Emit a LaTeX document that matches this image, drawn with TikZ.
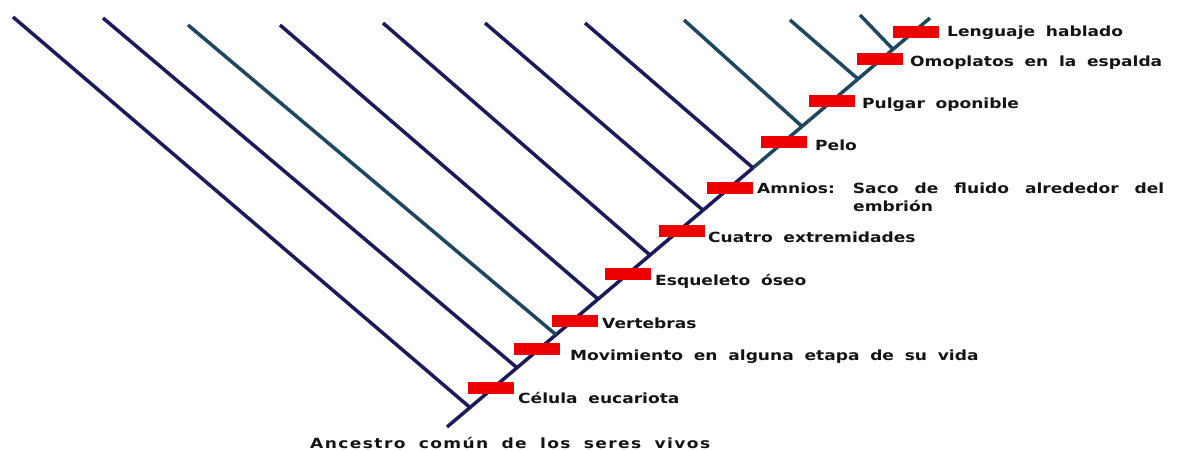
\documentclass[tikz,border=0pt]{standalone}
\usepackage{fontspec}
\usepackage{tikz}
\newfontfamily\lblfont{DejaVu Sans Bold}[FakeStretch=1.22, WordSpace=1.8]
\definecolor{navy}{RGB}{28,28,92}
\definecolor{tealblue}{RGB}{30,72,98}
\definecolor{barred}{RGB}{236,0,0}
\tikzset{
  branch/.style={line width=3.5pt, draw=navy},
  tbranch/.style={line width=3.5pt, draw=tealblue},
  trait/.style={rectangle, fill=barred, minimum width=46pt, minimum height=12pt, inner sep=0pt},
  label/.style={anchor=west, inner sep=0pt, font=\lblfont\fontsize{14}{18}\selectfont, text=black!92}
}

\begin{document}
\begin{tikzpicture}[x=1pt, y=-1pt]
\useasboundingbox (0,0) rectangle (1189,450);

% Trunk
\coordinate (base) at (447,427);
\coordinate (j1) at (470,407.5);
\coordinate (j2) at (517,367.7);
\coordinate (j3) at (556,334.7);
\coordinate (j4) at (598,299.1);
\coordinate (j5) at (650,255.1);
\coordinate (j6) at (703,210.2);
\coordinate (j7) at (753,167.9);
\coordinate (j8) at (802,126.4);
\coordinate (j9) at (858,79);
\coordinate (j10) at (893,49.3);
\coordinate (tip) at (930,18);

% Branch ends
\coordinate (t1) at (13,17);
\coordinate (t2) at (103,18);
\coordinate (t3) at (188,25);
\coordinate (t4) at (280,25);
\coordinate (t5) at (383,23);
\coordinate (t6) at (485,23);
\coordinate (t7) at (585,23);
\coordinate (t8) at (684,20);
\coordinate (t9) at (790,20);
\coordinate (t10) at (860,15);

\draw [branch] (base) -- (j7);
\draw [tbranch] (j7) -- (tip);

\draw [branch] (t1) -- (j1);
\draw [branch] (t2) -- (j2);
\draw [tbranch] (t3) -- (j3);
\draw [branch] (t4) -- (j4);
\draw [branch] (t5) -- (j5);
\draw [branch] (t6) -- (j6);
\draw [branch] (t7) -- (j7);
\draw [tbranch] (t8) -- (j8);
\draw [tbranch] (t9) -- (j9);
\draw [tbranch] (t10) -- (j10);

% Traits
\node (bar1) [trait] at (491,388) {};
\node (bar2) [trait] at (537,349) {};
\node (bar3) [trait] at (575,321) {};
\node (bar4) [trait] at (628,274) {};
\node (bar5) [trait] at (682,231) {};
\node (bar6) [trait] at (730,188) {};
\node (bar7) [trait] at (784,142) {};
\node (bar8) [trait] at (832,101) {};
\node (bar9) [trait] at (880,59) {};
\node (bar10) [trait] at (916,32) {};

% Labels
\node (celula) [label] at (518,398) {Célula eucariota};
\node (movim) [label] at (570,357) {Movimiento en alguna etapa de su vida};
\node (vertebras) [label] at (602,323) {Vertebras};
\node (esqueleto) [label] at (655,281) {Esqueleto óseo};
\node (cuatro) [label] at (708,237) {Cuatro extremidades};
\node (amnios) [label, anchor=north west, align=left] at (757,183) {\spaceskip=16pt\relax Amnios: Saco de fluido alrededor del\\\hspace*{96pt}embrión};
\node (pelo) [label] at (815,145) {Pelo};
\node (pulgar) [label] at (862,105) {Pulgar oponible};
\node (omoplatos) [label] at (910,63) {Omoplatos en la espalda};
\node (lenguaje) [label] at (947,33) {Lenguaje hablado};
\node (ancestro) [label] at (310,443) {\addfontfeatures{LetterSpace=10}Ancestro común de los seres vivos};

\end{tikzpicture}
\end{document}
